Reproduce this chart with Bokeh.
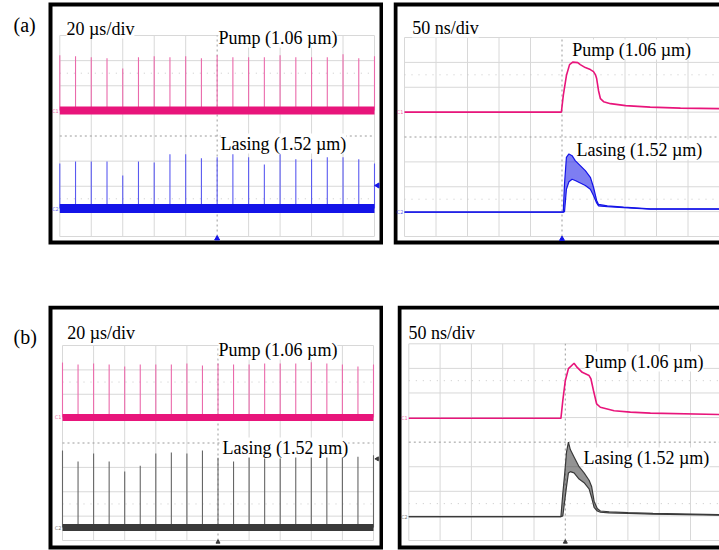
from bokeh.plotting import figure
from bokeh.layouts import column, row
from bokeh.models import Range1d, Label, Spacer
from bokeh.embed import file_html
from bokeh.resources import INLINE

# ------------------------------------------------------------------ data
# left panels: pulse trains, 20 us/div (x in us), y in screen divisions
train_t_us = [0, 10, 20, 30, 40, 50, 60, 70, 80, 90, 100,
              110, 120, 130, 140, 150, 160, 170, 180, 190, 200]
a_pump_peak = [7.21, 7.17, 7.13, 7.09, 6.69, 7.13, 7.17, 7.13, 7.17, 7.09, 7.21,
               7.13, 7.13, 7.13, 7.21, 7.13, 7.13, 7.13, 7.25, 7.09, 7.17]
a_las_peak = [2.91, 2.99, 2.99, 2.99, 2.43, 2.99, 2.95, 3.27, 3.27, 3.11, 3.15,
              3.27, 3.15, 2.87, 3.27, 3.07, 3.07, 3.15, 3.15, 3.07, 2.91]
a_pump_base = 5.01
a_las_base = 1.11
b_pump_peak = [7.30, 7.22, 7.26, 7.22, 7.14, 7.22, 7.22, 7.22, 7.26, 7.18, 7.26,
               7.22, 7.22, 7.26, 7.26, 7.26, 7.31, 7.26, 7.22, 7.14, 7.22]
b_las_peak = [3.69, 3.24, 3.57, 3.24, 2.83, 3.07, 3.57, 3.61, 3.57, 3.69, 3.40,
              3.24, 3.57, 3.36, 3.36, 3.77, 3.44, 3.65, 3.57, 3.44, 3.50]
b_pump_base = 5.05
b_las_base = 0.53

# right panels: single pulse, 50 ns/div (x in ns), y in screen divisions
a_pump_t = [0, 249, 252, 257, 262, 267, 275, 279, 287, 295, 300, 303, 305, 308,
            311, 316, 327, 351, 390, 438, 500]
a_pump_v = [5.0, 5.0, 5.66, 6.47, 6.91, 7.01, 6.99, 6.91, 6.79, 6.71, 6.63, 6.51,
            6.35, 5.86, 5.54, 5.42, 5.34, 5.26, 5.20, 5.16, 5.14]
a_las_t = [0, 252, 254, 257, 261, 266, 271, 279, 287, 295, 300, 305, 308, 322,
           348, 390, 500]
a_las_hi = [0.98, 0.98, 2.12, 3.18, 3.32, 3.25, 3.05, 2.85, 2.65, 2.38, 1.98, 1.45,
            1.29, 1.23, 1.18, 1.11, 1.11]
a_las_lo = [0.98, 0.98, 1.00, 1.90, 2.20, 2.30, 2.25, 2.15, 2.05, 1.90, 1.65, 1.35,
            1.23, 1.20, 1.16, 1.10, 1.10]

b_pump_t = [0, 243, 246, 250, 255, 264, 269, 277, 288, 291, 295, 300, 306, 328,
            354, 386, 500]
b_pump_v = [4.97, 4.97, 5.69, 6.50, 6.99, 7.21, 7.04, 6.84, 6.71, 6.57, 6.10, 5.56,
            5.42, 5.28, 5.22, 5.18, 5.12]
b_las_t = [0, 243, 246, 249, 252, 255, 258, 264, 272, 280, 288, 292, 296, 301,
           306, 320, 350, 390, 500]
b_las_hi = [0.97, 0.97, 1.90, 2.70, 3.60, 4.00, 3.70, 3.40, 3.00, 2.75, 2.45, 2.20,
            1.60, 1.30, 1.20, 1.17, 1.13, 1.10, 1.05]
b_las_lo = [0.97, 0.97, 1.00, 1.60, 2.20, 2.75, 2.80, 2.75, 2.50, 2.35, 2.10, 1.75,
            1.35, 1.20, 1.15, 1.12, 1.10, 1.07, 1.03]

labels_time = ["20 µs/div", "50 ns/div"]
label_pump = "Pump (1.06 µm)"
label_las = "Lasing (1.52 µm)"

# ------------------------------------------------------------------ style
SERIF = "Liberation Serif"
PINK = "#e8157b"
PINK_PULSE = "#ea6aab"
BLUE = "#1414e8"
BLUE_PULSE = "#5a5af0"
GRAY = "#3a3a3a"
GRAY_PULSE = "#666666"
GRID = "#d8d8d8"
CENTER = "#9a9a9a"
NDX, NDY = 10, 8


def make_panel(W, H, gbox, xspan, frame):
    gx0, gy0, gx1, gy1 = gbox
    sx = (gx1 - gx0) / xspan
    sy = (gy1 - gy0) / NDY
    p = figure(width=W, height=H,
               x_range=Range1d(-gx0 / sx, (W - gx0) / sx),
               y_range=Range1d(-(H - gy1) / sy, gy1 / sy),
               output_backend="svg", toolbar_location=None,
               x_axis_location=None, y_axis_location=None,
               min_border=0, min_border_left=0, min_border_right=0,
               min_border_top=0, min_border_bottom=0,
               outline_line_color=None,
               background_fill_color="white", border_fill_color="white")
    p.grid.visible = False

    def fx(u):
        return (u - gx0) / sx

    def fy(v):
        return (gy1 - v) / sy

    xs = [i * xspan / NDX for i in range(NDX + 1) if i != NDX // 2]
    p.segment(x0=xs, y0=[0] * len(xs), x1=xs, y1=[NDY] * len(xs),
              line_color=GRID, line_width=1)
    ys = [j for j in range(NDY + 1) if j != NDY // 2]
    p.segment(x0=[0] * len(ys), y0=ys, x1=[xspan] * len(ys), y1=ys,
              line_color=GRID, line_width=1)
    p.segment(x0=[0], y0=[NDY / 2], x1=[xspan], y1=[NDY / 2],
              line_color=CENTER, line_width=1, line_dash="2 3")
    p.segment(x0=[xspan / 2], y0=[0], x1=[xspan / 2], y1=[NDY],
              line_color=CENTER, line_width=1, line_dash="2 3")
    p.segment(x0=[0, 0], y0=[1.5, 6.5], x1=[xspan, xspan], y1=[1.5, 6.5],
              line_color="#c8c8c8", line_width=1, line_dash="1 6")

    l, t, r, b = frame
    p.quad(left=[fx(l)], right=[fx(r)], top=[fy(t)], bottom=[fy(b)],
           fill_color=None, line_color="black", line_width=4, line_join="miter")
    return p, fx, fy


def add_text(p, fx, fy, x, y, text, size="18px"):
    p.add_layout(Label(x=fx(x), y=fy(y), text=text, text_font=SERIF,
                       text_font_size=size, text_color="black",
                       text_baseline="alphabetic", text_align="left",
                       background_fill_color="white"))


def add_tag(p, x, y, text, color):
    p.add_layout(Label(x=x, y=y, text=text, text_font="DejaVu Sans",
                       text_font_size="5px", text_color=color, text_alpha=0.7,
                       text_baseline="middle", text_align="right", x_offset=-1))


def train(p, t, base, peaks, color, pcolor, band):
    p.segment(x0=t, y0=[base] * len(t), x1=t, y1=peaks,
              line_color=pcolor, line_width=1.1)
    p.line(x=[t[0], t[-1]], y=[base, base], line_color=color, line_width=band)


def single(p, pt, pv, lt, lhi, llo, lcolor):
    p.line(pt, pv, line_color=PINK, line_width=1.6)
    p.varea(x=lt, y1=llo, y2=lhi, fill_color=lcolor, fill_alpha=0.55)
    p.line(lt, lhi, line_color=lcolor, line_width=1.2)
    p.line(lt, llo, line_color=lcolor, line_width=1.2)


# ---------------------------------------------------------- panel (a) left
AL, fx, fy = make_panel(383, 246, (59.3, 35, 374, 236), 200, (50, 4, 381, 242))
train(AL, train_t_us, a_pump_base, a_pump_peak, PINK, PINK_PULSE, 8)
train(AL, train_t_us, a_las_base, a_las_peak, BLUE, BLUE_PULSE, 9)
add_tag(AL, 0, a_pump_base, "C1", PINK)
add_tag(AL, 0, a_las_base, "C2", BLUE)
AL.scatter(x=[100], y=[fy(238)], marker="triangle", size=5, color=BLUE)
AL.scatter(x=[fx(377)], y=[2.03], marker="triangle", angle=1.5708, size=5, color=BLUE)
add_text(AL, fx, fy, 13, 24.5, "(a)", "20px")
add_text(AL, fx, fy, 66, 28, labels_time[0])
add_text(AL, fx, fy, 218, 37, label_pump)
add_text(AL, fx, fy, 220, 143, label_las)

# --------------------------------------------------------- panel (a) right
AR, fx, fy = make_panel(326, 246, (11, 37, 326, 236), 500, (2, 4, 360, 242))
single(AR, a_pump_t, a_pump_v, a_las_t, a_las_hi, a_las_lo, BLUE)
add_tag(AR, 0, a_pump_v[0], "C1", PINK)
add_tag(AR, 0, a_las_hi[0], "C2", BLUE)
AR.scatter(x=[250], y=[fy(238.5)], marker="triangle", size=5, color=BLUE)
add_text(AR, fx, fy, 18.7, 27, labels_time[1])
add_text(AR, fx, fy, 178.7, 49, label_pump)
add_text(AR, fx, fy, 183, 149, label_las)

# ---------------------------------------------------------- panel (b) left
BL, fx, fy = make_panel(383, 245, (62, 40, 373, 235), 200, (50, 2, 381, 242))
train(BL, train_t_us, b_pump_base, b_pump_peak, PINK, PINK_PULSE, 7)
train(BL, train_t_us, b_las_base, b_las_peak, GRAY, GRAY_PULSE, 7)
add_tag(BL, 0, b_pump_base, "C1", PINK)
add_tag(BL, 0, b_las_base, "C2", GRAY)
BL.scatter(x=[100], y=[fy(236.5)], marker="triangle", size=4, color=GRAY)
BL.scatter(x=[fx(376.7)], y=[3.35], marker="triangle", angle=1.5708, size=4, color=GRAY)
add_text(BL, fx, fy, 13, 31, "(b)", "20px")
add_text(BL, fx, fy, 66.7, 27, labels_time[0])
add_text(BL, fx, fy, 218, 44, label_pump)
add_text(BL, fx, fy, 222, 142, label_las)

# --------------------------------------------------------- panel (b) right
BR, fx, fy = make_panel(322, 245, (11.3, 38.3, 324.3, 235), 500, (2, 2, 360, 242))
single(BR, b_pump_t, b_pump_v, b_las_t, b_las_hi, b_las_lo, GRAY)
add_tag(BR, 0, b_pump_v[0], "C1", PINK)
add_tag(BR, 0, b_las_hi[0], "C2", GRAY)
BR.scatter(x=[250], y=[fy(236.5)], marker="triangle", size=4, color=GRAY)
add_text(BR, fx, fy, 11, 27, labels_time[1])
add_text(BR, fx, fy, 187, 56, label_pump)
add_text(BR, fx, fy, 186, 152, label_las)

layout = column(
    row(AL, Spacer(width=10, height=246), AR, spacing=0),
    Spacer(width=719, height=59),
    row(BL, Spacer(width=14, height=245), BR, spacing=0),
    spacing=0,
)

open("out.html", "w").write(file_html(layout, INLINE))
